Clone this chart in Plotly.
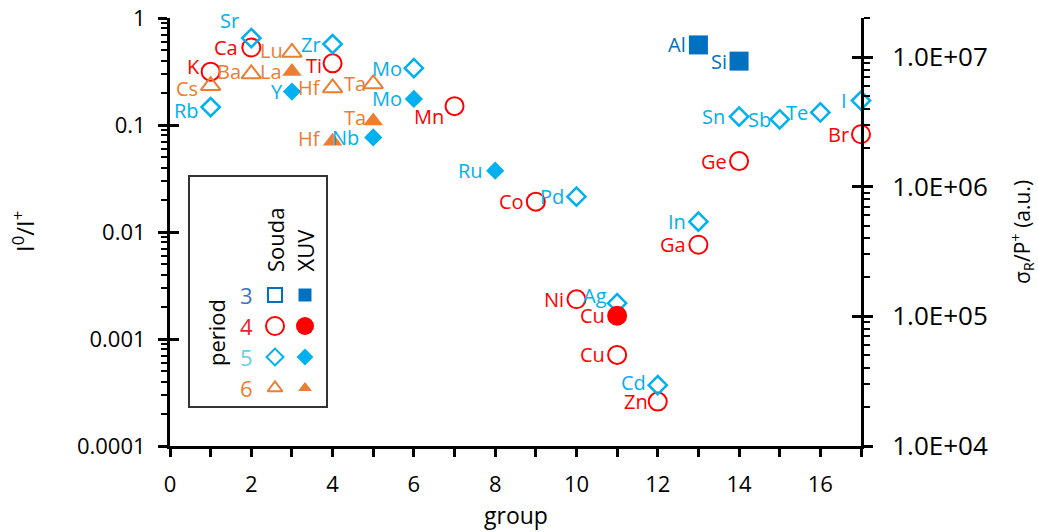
import numpy as np
import plotly.graph_objects as go

# ---------------- data ----------------
# Souda (left axis, I0/I+)
souda_p4_names = ["K", "Ca", "Ti", "Mn", "Co", "Ni", "Cu", "Zn", "Ga", "Ge", "Br"]
souda_p4_group = [1, 2, 4, 7, 9, 10, 11, 12, 13, 14, 17]
souda_p4_val = [0.315, 0.53, 0.377, 0.15, 0.0192, 0.00235, 0.00071, 0.00026, 0.0076, 0.046, 0.082]

souda_p5_names = ["Rb", "Sr", "Zr", "Mo", "Pd", "Ag", "Cd", "In", "Sn", "Sb", "Te", "I"]
souda_p5_group = [1, 2, 4, 6, 10, 11, 12, 13, 14, 15, 16, 17]
souda_p5_val = [0.147, 0.65, 0.57, 0.34, 0.0214, 0.00216, 0.00037, 0.0125, 0.12, 0.113, 0.131, 0.169]

souda_p6_names = ["Cs", "Ba", "Lu", "Hf", "Ta"]
souda_p6_group = [1, 2, 3, 4, 5]
souda_p6_val = [0.233, 0.30, 0.477, 0.222, 0.242]

# XUV (right axis, sigma_R/P+)
xuv_p3_names = ["Al", "Si"]
xuv_p3_group = [13, 14]
xuv_p3_val = [1.24e7, 9.3e6]

xuv_p4_names = ["Cu"]
xuv_p4_group = [11]
xuv_p4_val = [1.01e5]

xuv_p5_names = ["Y", "Nb", "Mo", "Ru"]
xuv_p5_group = [3, 5, 6, 8]
xuv_p5_val = [5.41e6, 2.40e6, 4.75e6, 1.33e6]

xuv_p6_names = ["La", "Hf", "Ta"]
xuv_p6_group = [3, 4, 5]
xuv_p6_val = [7.72e6, 2.24e6, 3.21e6]

left_tickvals = [1e-4, 1e-3, 1e-2, 1e-1, 1]
left_ticktext = ["0.0001", "0.001", "0.01", "0.1", "1"]
right_tickvals = [1e4, 1e5, 1e6, 1e7]
right_ticktext = ["1.0E+04", "1.0E+05", "1.0E+06", "1.0E+07"]

# ---------------- style ----------------
FONT = "Open Sans"
C3 = "#0070C0"
C4 = "#FF0000"
C5 = "#00B0F0"
C6 = "#ED7D31"
LBL = 20

# label offsets (px): (series, name) -> (xshift, yshift)
label_offsets = {
    ("s4", "K"): (-9, 5), ("s4", "Ca"): (-11, 0), ("s4", "Ti"): (-9, -2), ("s4", "Mn"): (-9, -10),
    ("s4", "Zn"): (-8, 0),
    ("s5", "Sr"): (-10, 18), ("s5", "Ag"): (-8, 8), ("s5", "Cd"): (-10, 3), ("s5", "Rb"): (-10, -3),
    ("s5", "Sb"): (-7, 0), ("s5", "Sn"): (-12, 0), ("s5", "I"): (-12, 0),
    ("s6", "Cs"): (-11, -3), ("s6", "Ba"): (-8, 2), ("s6", "Lu"): (-7, 2), ("s6", "Ta"): (-5, 0),
    ("x5", "Y"): (-7, 0), ("x5", "Nb"): (-12, 0),
    ("x6", "La"): (-8, 0), ("x6", "Ta"): (-5, 4), ("x6", "Hf"): (-10, 3),
}

# pixel geometry
W, H = 1038, 532
L, R, T, B = 170, 177, 18, 86
PW, PH = W - L - R, H - T - B


def px(x):
    return (x - L) / PW


def py(y):
    return (H - B - y) / PH


fig = go.Figure()


def add(key, names, g, v, symbol, size, color, lw, yaxis):
    fig.add_trace(go.Scatter(
        x=g, y=v, mode="markers",
        marker=dict(symbol=symbol, size=size, color=color,
                    line=dict(width=lw, color=color)),
        cliponaxis=False, showlegend=False, hoverinfo="skip",
        xaxis="x", yaxis=yaxis))
    for n, gx, vy in zip(names, g, v):
        dx, dy = label_offsets.get((key, n), (-10, 0))
        fig.add_annotation(x=gx, y=np.log10(vy), xref="x", yref=yaxis, text=n,
                           showarrow=False, xanchor="right", yanchor="middle",
                           xshift=dx, yshift=dy,
                           font=dict(family=FONT, size=LBL, color=color))


add("s4", souda_p4_names, souda_p4_group, souda_p4_val, "circle-open", 18, C4, 2, "y")
add("s5", souda_p5_names, souda_p5_group, souda_p5_val, "diamond-open", 14, C5, 2.5, "y")
add("s6", souda_p6_names, souda_p6_group, souda_p6_val, "triangle-up-open", 17, C6, 2, "y")
add("x3", xuv_p3_names, xuv_p3_group, xuv_p3_val, "square", 19, C3, 0, "y2")
add("x4", xuv_p4_names, xuv_p4_group, xuv_p4_val, "circle", 20, C4, 0, "y2")
add("x5", xuv_p5_names, xuv_p5_group, xuv_p5_val, "diamond", 14, C5, 0, "y2")
add("x6", xuv_p6_names, xuv_p6_group, xuv_p6_val, "triangle-up", 17, C6, 0, "y2")

# dummy traces so the inner-tick overlay axes are drawn
for ya in ["y3", "y4"]:
    fig.add_trace(go.Scatter(x=[None], y=[None], xaxis="x", yaxis=ya,
                             showlegend=False, hoverinfo="skip"))

# legend key symbols (pixel-coordinate overlay axes)
leg_x_souda, leg_x_xuv = 275, 305
leg_rows = [295, 326, 357, 388]
leg_specs = [
    ("square-open", 14, "square", 13, C3),
    ("circle-open", 18, "circle", 18, C4),
    ("diamond-open", 13, "diamond", 13, C5),
    ("triangle-up-open", 13, "triangle-up", 12, C6),
]
for yrow, (so, ss, xs, xsz, col) in zip(leg_rows, leg_specs):
    fig.add_trace(go.Scatter(x=[leg_x_souda], y=[yrow], mode="markers",
                             marker=dict(symbol=so, size=ss, color=col, line=dict(width=2, color=col)),
                             xaxis="x2", yaxis="y5", showlegend=False, hoverinfo="skip", cliponaxis=False))
    fig.add_trace(go.Scatter(x=[leg_x_xuv], y=[yrow], mode="markers",
                             marker=dict(symbol=xs, size=xsz, color=col, line=dict(width=0)),
                             xaxis="x2", yaxis="y5", showlegend=False, hoverinfo="skip", cliponaxis=False))

minor_left = [m * 10.0 ** e for e in range(-4, 0) for m in range(2, 10)]
minor_right = [m * 10.0 ** e for e in range(4, 8) for m in range(2, 10) if m * 10.0 ** e <= 2e7]

common_y = dict(type="log", showgrid=False, zeroline=False)

fig.update_layout(
    width=W, height=H,
    margin=dict(l=L, r=R, t=T, b=B, autoexpand=False),
    paper_bgcolor="white", plot_bgcolor="white",
    font=dict(family=FONT, color="black"),
    showlegend=False,
    xaxis=dict(range=[0, 17], showline=True, linewidth=3, linecolor="black",
               ticks="outside", ticklen=8, tickwidth=3, tickcolor="black",
               tick0=0, dtick=2, tickfont=dict(family=FONT, size=22, color="black"),
               ticklabelstandoff=9,
               minor=dict(dtick=1, tick0=0, ticks="outside", ticklen=8, tickwidth=2.5, tickcolor="black"),
               showgrid=False, zeroline=False, anchor="y", automargin=False),
    yaxis=dict(**common_y, range=[-4, 0], showline=True, linewidth=3, linecolor="black",
               ticks="outside", ticklen=9, tickwidth=3, tickcolor="black",
               tickmode="array", tickvals=left_tickvals, ticktext=left_ticktext,
               tickfont=dict(family=FONT, size=22, color="black"), ticklabelstandoff=8,
               minor=dict(tickmode="array", tickvals=minor_left, ticks="outside",
                          ticklen=6, tickwidth=2, tickcolor="black"),
               automargin=False, anchor="x"),
    yaxis3=dict(**common_y, range=[-4, 0], overlaying="y", side="left", anchor="x",
                ticks="inside", ticklen=9, tickwidth=3, tickcolor="black",
                tickmode="array", tickvals=left_tickvals, showticklabels=False,
                showline=False, automargin=False),
    yaxis2=dict(**common_y, range=[4, np.log10(2e7)], overlaying="y", side="right", anchor="x",
                showline=True, linewidth=3, linecolor="black",
                ticks="outside", ticklen=9, tickwidth=3, tickcolor="black",
                tickmode="array", tickvals=right_tickvals, ticktext=right_ticktext,
                tickfont=dict(family=FONT, size=26, color="black"), ticklabelstandoff=14,
                minor=dict(tickmode="array", tickvals=minor_right, ticks="outside",
                           ticklen=6, tickwidth=2, tickcolor="black"),
                automargin=False),
    yaxis4=dict(**common_y, range=[4, np.log10(2e7)], overlaying="y", side="right", anchor="x",
                ticks="inside", ticklen=9, tickwidth=3, tickcolor="black",
                tickmode="array", tickvals=right_tickvals, showticklabels=False,
                showline=False, automargin=False),
    xaxis2=dict(range=[L, W - R], overlaying="x", visible=False, anchor="y5"),
    yaxis5=dict(range=[H - B, T], overlaying="y", visible=False, anchor="x2"),
)

# legend box
fig.add_shape(type="rect", xref="x2", yref="y5", x0=189, x1=327, y0=176, y1=407,
              line=dict(color="#333333", width=2), fillcolor="rgba(0,0,0,0)", layer="below")

legfont = dict(family=FONT, size=22)
fig.add_annotation(xref="x2", yref="y5", x=216, y=333, text="period", showarrow=False,
                   textangle=-90, xanchor="center", yanchor="middle",
                   font=dict(**legfont, color="black"))
for yrow, lab, col in zip(leg_rows, ["3", "4", "5", "6"], ["#4472C4", "#E8232E", "#6CCDE6", C6]):
    fig.add_annotation(xref="x2", yref="y5", x=246, y=yrow, text=lab, showarrow=False,
                       xanchor="center", yanchor="middle",
                       font=dict(**legfont, color=col))
fig.add_annotation(xref="x2", yref="y5", x=275, y=274, text="Souda", showarrow=False,
                   textangle=-90, xanchor="center", yanchor="bottom", font=dict(**legfont, color="black"))
fig.add_annotation(xref="x2", yref="y5", x=304, y=274, text="XUV", showarrow=False,
                   textangle=-90, xanchor="center", yanchor="bottom", font=dict(**legfont, color="black"))

# axis titles
fig.add_annotation(xref="paper", yref="paper", x=px(23), y=py(232),
                   text="I<sup>0</sup>/I<sup>+</sup>", showarrow=False, textangle=-90,
                   xanchor="center", yanchor="middle",
                   font=dict(family=FONT, size=24, color="black"))
fig.add_annotation(xref="paper", yref="paper", x=px(1021), y=py(232),
                   text="σ<sub>R</sub>/P<sup>+</sup> (a.u.)", showarrow=False, textangle=-90,
                   xanchor="center", yanchor="middle",
                   font=dict(family=FONT, size=21, color="black"))
fig.add_annotation(xref="paper", yref="paper", x=px(516), y=py(515),
                   text="group", showarrow=False, xanchor="center", yanchor="middle",
                   font=dict(family=FONT, size=23, color="black"))

fig.write_html("out.html")
